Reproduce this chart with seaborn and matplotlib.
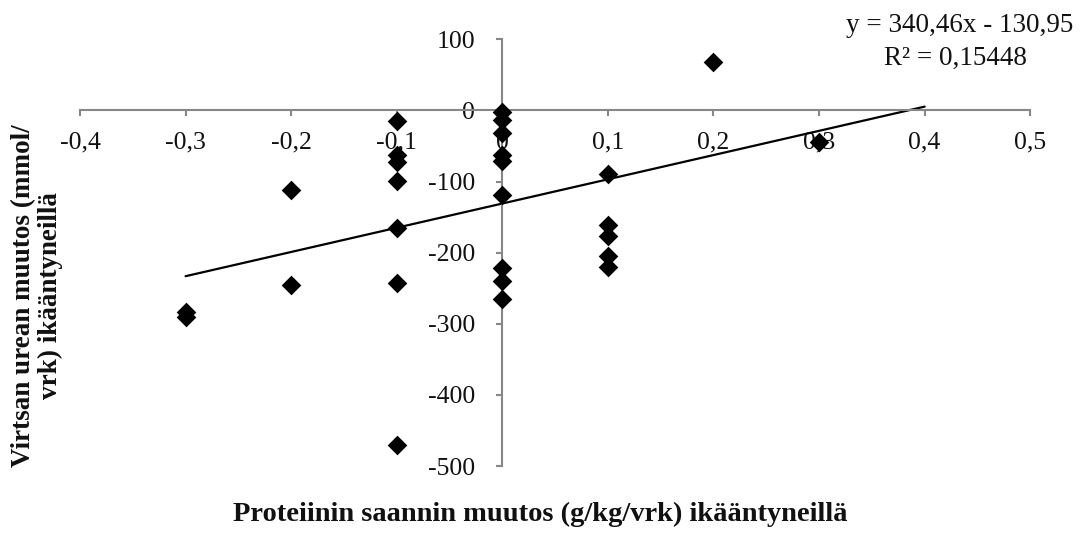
import matplotlib
matplotlib.use("Agg")
import matplotlib.pyplot as plt
import numpy as np
import pandas as pd
import seaborn as sns

# ---- data ----
protein_change = [-0.3, -0.3,
                  -0.2, -0.2,
                  -0.1, -0.1, -0.1, -0.1, -0.1, -0.1, -0.1,
                  0.0, 0.0, 0.0, 0.0, 0.0, 0.0, 0.0, 0.0, 0.0,
                  0.1, 0.1, 0.1, 0.1, 0.1,
                  0.2,
                  0.3]
urea_change = [-283, -291,
               -112, -246,
               -15, -63, -72, -99, -165, -242, -470,
               -2, -14, -32, -63, -71, -119, -221, -240, -265,
               -90, -161, -176, -205, -220,
               68,
               -45]
trend_slope = 340.46
trend_intercept = -130.95
r_squared = 0.15448
x_ticks = [-0.4, -0.3, -0.2, -0.1, 0.0, 0.1, 0.2, 0.3, 0.4, 0.5]
x_tick_labels = ["-0,4", "-0,3", "-0,2", "-0,1", "0", "0,1", "0,2", "0,3", "0,4", "0,5"]
y_ticks = [-500, -400, -300, -200, -100, 0, 100]
y_tick_labels = ["-500", "-400", "-300", "-200", "-100", "0", "100"]
x_label = "Proteiinin saannin muutos (g/kg/vrk) ikääntyneillä"
y_label = "Virtsan urean muutos (mmol/\nvrk) ikääntyneillä"

df = pd.DataFrame({"x": protein_change, "y": urea_change})

sns.set_theme(style="white")
plt.rcParams["font.family"] = ["Liberation Serif", "DejaVu Serif"]

fig = plt.figure(figsize=(10.81, 5.37), dpi=100)
ax = fig.add_axes([0.074, 0.132, 0.879, 0.795])

# trendline (forward forecast 0.1)
trend_x = np.array([min(protein_change), max(protein_change) + 0.1])
trend_df = pd.DataFrame({"x": trend_x, "y": trend_slope * trend_x + trend_intercept})
sns.lineplot(data=trend_df, x="x", y="y", ax=ax, color="black", linewidth=1.6, zorder=2)

sns.scatterplot(data=df, x="x", y="y", ax=ax, marker="D", s=100, color="black",
                edgecolor="black", linewidth=0, zorder=3)

ax.set_xlim(-0.4, 0.5)
ax.set_ylim(-500, 100)
ax.set_xticks(x_ticks)
ax.set_xticklabels(x_tick_labels)
ax.set_yticks(y_ticks)
ax.set_yticklabels(y_tick_labels)
ax.set_xlabel("")
ax.set_ylabel("")

grey = "#878787"
for s in ["top", "right"]:
    ax.spines[s].set_visible(False)
ax.spines["left"].set_position(("data", 0))
ax.spines["bottom"].set_position(("data", 0))
for s in ["left", "bottom"]:
    ax.spines[s].set_color(grey)
    ax.spines[s].set_linewidth(1.5)
ax.tick_params(axis="x", direction="out", length=4.5, width=1.5, color=grey,
               pad=11, labelsize=18.5, labelcolor="#111111", bottom=True)
ax.tick_params(axis="y", direction="out", length=4.5, width=1.5, color=grey,
               pad=15, labelsize=18.5, labelcolor="#111111", left=True)
ax.grid(False)
ax.set_facecolor("white")

eq_text = f"y = {trend_slope:.2f}x - {abs(trend_intercept):.2f}".replace(".", ",")
r2_text = f"R² = {r_squared:.5f}".replace(".", ",")
fig.text(960 / 1081, 1 - 25 / 537, eq_text, ha="center", va="center", fontsize=19.5, color="#111111")
fig.text(955 / 1081, 1 - 58 / 537, r2_text, ha="center", va="center", fontsize=19.5, color="#111111")

fig.text(540 / 1081, 1 - 514 / 537, x_label, ha="center", va="center",
         fontsize=20.5, fontweight="bold", color="#111111")
fig.text(37 / 1081, 1 - 296 / 537, y_label, ha="center", va="center", rotation=90,
         multialignment="center", fontsize=19.5, fontweight="bold", color="#111111",
         linespacing=1.05)

fig.savefig("out.png", dpi=100, facecolor="white")
